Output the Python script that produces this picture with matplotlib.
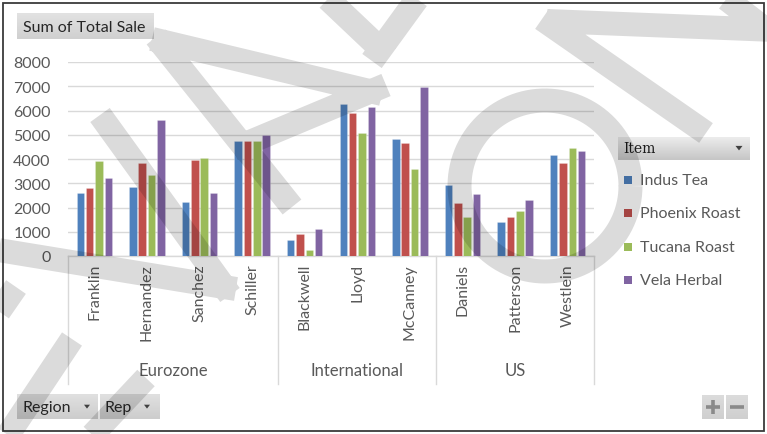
import numpy as np
import matplotlib
matplotlib.use("Agg")
import matplotlib.pyplot as plt
from matplotlib.patches import Rectangle, Polygon
from matplotlib.lines import Line2D
from matplotlib.transforms import blended_transform_factory

# ---- data -------------------------------------------------------------
reps = ["Franklin", "Hernandez", "Sanchez", "Schiller", "Blackwell", "Lloyd",
        "McCanney", "Daniels", "Patterson", "Westlein"]
regions = ["Eurozone", "International", "US"]
region_sizes = [4, 3, 3]
items = ["Indus Tea", "Phoenix Roast", "Tucana Roast", "Vela Herbal"]
indus_tea = [2600, 2850, 2220, 4760, 670, 6260, 4840, 2910, 1420, 4150]
phoenix_roast = [2790, 3850, 3970, 4760, 920, 5900, 4650, 2170, 1600, 3850]
tucana_roast = [3900, 3350, 4030, 4760, 230, 5090, 3600, 1600, 1850, 4470]
vela_herbal = [3230, 5590, 2590, 4970, 1100, 6140, 6950, 2540, 2290, 4350]
y_ticks = [0, 1000, 2000, 3000, 4000, 5000, 6000, 7000, 8000]

series = [indus_tea, phoenix_roast, tucana_roast, vela_herbal]
colors = ["#4F81BD", "#C0504D", "#9BBB59", "#8064A2"]

W, H, DPI = 767, 435, 100
FONT = "Lato"
TXT = "#595959"
FS = 11.5

fig = plt.figure(figsize=(W / DPI, H / DPI), dpi=DPI)
fig.patch.set_facecolor("white")


def fx(px):
    return px / W


def fy(py):
    return 1 - py / H


# ---- plot area --------------------------------------------------------
left, right, top, bottom = 68, 594, 63, 257
ax = fig.add_axes([fx(left), fy(bottom), fx(right) - fx(left), fy(top) - fy(bottom)])
ax.set_facecolor("none")
x = np.arange(len(reps))
pitch, bw = 0.178, 0.142
for i, (vals, c) in enumerate(zip(series, colors)):
    ax.bar(x + (i - 1.5) * pitch, vals, width=bw, color=c, zorder=3,
           edgecolor=(1, 1, 1, 0.35), linewidth=0.4)

ax.set_xlim(-0.5, len(reps) - 0.5)
ax.set_ylim(0, 8000)
ax.set_yticks(y_ticks)
ax.set_yticklabels([str(v) for v in y_ticks], fontsize=FS, color=TXT, family=FONT)
ax.tick_params(axis="y", length=0, pad=12.5)
ax.set_xticks([])
ax.grid(axis="y", color="#d9d9d9", linewidth=1.0, zorder=0)
for s in ["top", "right", "left"]:
    ax.spines[s].set_visible(False)
ax.spines["bottom"].set_color("#d9d9d9")
ax.spines["bottom"].set_linewidth(1.0)

# multi-level category axis
blend = blended_transform_factory(ax.transData, ax.transAxes)
axis_h = bottom - top
sep_depth = -(385 - bottom) / axis_h
bounds = np.concatenate([[0], np.cumsum(region_sizes)]) - 0.5
for b in bounds:
    ax.add_line(Line2D([b, b], [0, sep_depth], transform=blend, color="#d9d9d9",
                       linewidth=1.0, clip_on=False))
for xi, name in zip(x, reps):
    ax.text(xi, -(264 - bottom) / axis_h, name, transform=blend, rotation=90,
            ha="center", va="top", fontsize=FS, color=TXT, family=FONT)
for r, a, b in zip(regions, bounds[:-1], bounds[1:]):
    ax.text((a + b) / 2, -(371 - bottom) / axis_h, r, transform=blend,
            ha="center", va="center", fontsize=FS + 0.5, color=TXT, family=FONT)

# ---- pivot-chart chrome (pixel coordinates) ---------------------------
ui = fig.add_axes([0, 0, 1, 1], zorder=5)
ui.set_xlim(0, W)
ui.set_ylim(H, 0)
ui.axis("off")
ui.set_facecolor("none")


def button(x0, y0, x1, y1, c_top="#e4e4e4", c_bot="#c9c9c9"):
    grad = np.linspace(0, 1, 32)[:, None]
    ct = np.array(matplotlib.colors.to_rgb(c_top))
    cb = np.array(matplotlib.colors.to_rgb(c_bot))
    img = ct[None, None, :] * (1 - grad[..., None]) + cb[None, None, :] * grad[..., None]
    img = np.repeat(img, 2, axis=1)
    ui.imshow(img, extent=(x0, x1, y1, y0), aspect="auto", interpolation="bilinear", zorder=1)


def triangle(cx, cy, s=3.5, color="#404040"):
    ui.add_patch(Polygon([(cx - s, cy - s * 0.6), (cx + s, cy - s * 0.6), (cx, cy + s * 0.7)],
                         closed=True, color=color, zorder=3, linewidth=0))


button(17, 14, 154, 40, "#e2e2e2", "#d0d0d0")
ui.text(23, 27.5, "Sum of Total Sale", fontsize=11.5, family=FONT, color="#262626",
        ha="left", va="center", zorder=3)

button(618, 138, 750, 161, "#ececec", "#c6c6c6")
ui.text(623, 149.5, "Item", fontsize=10, family="DejaVu Serif", color="#1a1a1a",
        ha="left", va="center", zorder=3)
triangle(739, 149)

legend_y = [181, 214, 248, 281]
for name, c, ly in zip(items, colors, legend_y):
    ui.add_patch(Rectangle((624, ly - 4), 8, 8, color=c, zorder=3, linewidth=0))
    ui.text(640, ly, name, fontsize=FS, family=FONT, color=TXT, ha="left",
            va="center", zorder=3)

button(17, 395, 98, 420, "#e0e0e0", "#cdcdcd")
ui.text(22, 408, "Region", fontsize=11.5, family=FONT, color="#262626", ha="left",
        va="center", zorder=3)
triangle(87, 407.5, 3)
button(100, 395, 160, 420, "#e0e0e0", "#cdcdcd")
ui.text(105, 408, "Rep", fontsize=11.5, family=FONT, color="#262626", ha="left",
        va="center", zorder=3)
triangle(147, 407.5, 3)

button(702, 396, 724, 420, "#dcdcdc", "#cfcfcf")
button(726, 396, 748, 420, "#dcdcdc", "#cfcfcf")
ui.plot([706, 720], [408, 408], color="#8a8a8a", lw=2.6, zorder=3, solid_capstyle="butt")
ui.plot([713, 713], [401, 415], color="#8a8a8a", lw=2.6, zorder=3, solid_capstyle="butt")
ui.plot([730, 744], [408, 408], color="#8a8a8a", lw=2.6, zorder=3, solid_capstyle="butt")

# outer frame
ui.add_patch(Rectangle((3, 4), 761, 428, fill=False, edgecolor="#3a3a3a",
                       linewidth=1.3, zorder=4))

# ---- watermark --------------------------------------------------------
wm = fig.add_axes([0, 0, 1, 1], zorder=20)
wm.set_xlim(0, W)
wm.set_ylim(H, 0)
wm.axis("off")
wm.set_facecolor("none")

# each band is its own straight segment; all of them go into one path so
# that crossings are not darkened twice
bands = [
    [(-8, 250), (236, 290)],
    [(100, 116), (230, 296)],
    [(-20, 340), (16, 288)],
    [(72, 340), (2, 445)],
    [(146, 379), (82, 447)],
    [(292, 208), (156, 38)],
    [(152, 40), (382, 95)],
    [(386, 86), (233, 150)],
    [(312, -15), (388, 57)],
    [(428, -15), (372, 62)],
    [(547, 22), (775, 31)],
    [(542, 20), (706, 134)],
    [(716, -8), (778, 40)],
]
t = np.linspace(0, 2 * np.pi, 240)
ring = list(zip(545 + 85.5 * np.cos(t), 187 + 85.5 * np.sin(t)))
bands.append(ring)

xs, ys = [], []
for s in bands:
    sx, sy = zip(*s)
    xs.extend(sx + (np.nan,))
    ys.extend(sy + (np.nan,))
wm.add_line(Line2D(xs, ys, color="black", alpha=0.14, linewidth=24 * 72 / DPI,
                   solid_capstyle="butt", solid_joinstyle="round"))

fig.savefig("out.png", dpi=DPI, facecolor="white")
